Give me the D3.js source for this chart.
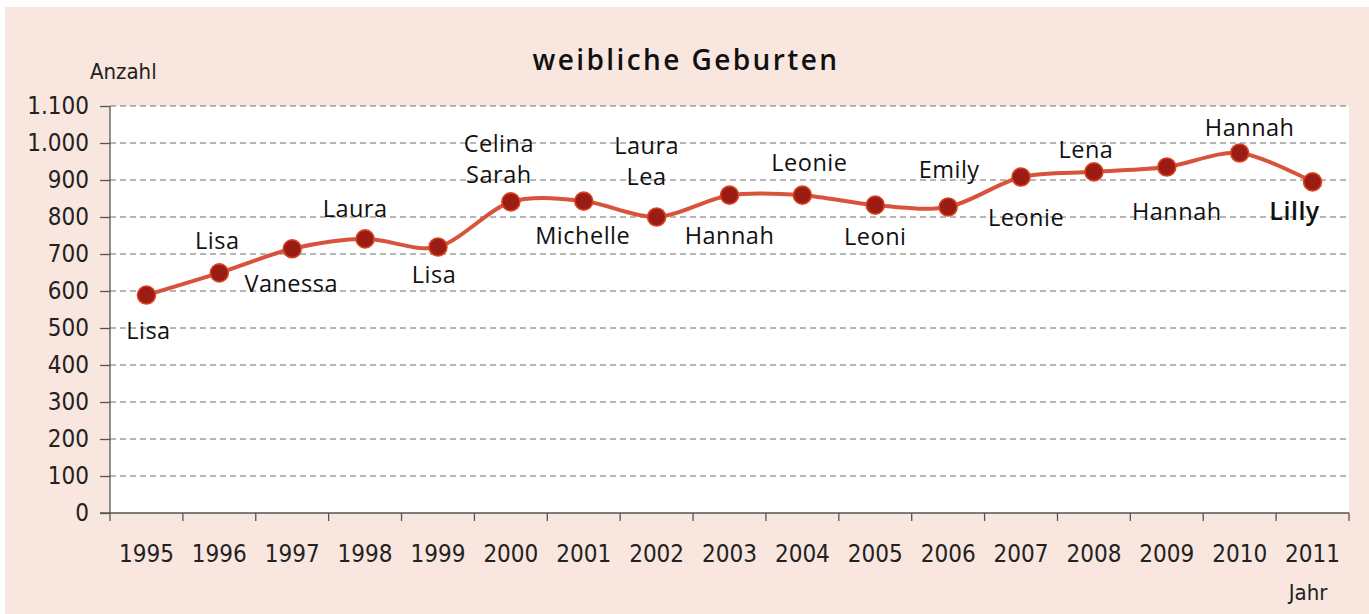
<!DOCTYPE html>
<html lang="de">
<head>
<meta charset="UTF-8" />
<title>weibliche Geburten</title>
<script src="https://d3js.org/d3.v7.min.js"></script>
<style>
    body { margin: 0; background: #fff; }
    .axis text { font-family: 'Liberation Sans Narrow', 'DejaVu Sans', sans-serif; font-stretch: condensed; font-size: 24px; fill: #222; }
    .axis .domain, .axis line { stroke: #555; stroke-width: 1.3; }
    .name { font-family: 'Open Sans', sans-serif; font-size: 23.5px; letter-spacing: 0.5px; fill: #111; }
</style>
</head>
<body>
<svg width="1369" height="614"></svg>
<script>

// data
var years = ["1995","1996","1997","1998","1999","2000","2001","2002","2003",
             "2004","2005","2006","2007","2008","2009","2010","2011"];
var births = [589, 649, 714, 741, 719, 841, 843, 800, 859, 859, 832, 827, 908, 922, 935, 973, 895];
var topNames = ["Lisa","Lisa","Vanessa","Laura","Lisa","Celina\nSarah","Michelle","Laura\nLea","Hannah",
                "Leonie","Leoni","Emily","Leonie","Lena","Hannah","Hannah","Lilly"];
var yTicks = [0,100,200,300,400,500,600,700,800,900,1000,1100];

// where each name label sits, relative to its point (px)
var labelDx = [2,-2,-1,-10,-4,-12,-1,-10,0,7,0,1,5,-8,10,10,-18];
var labelDy = [35,-32,35,-30,28,-27,34,-40,40,-33,31,-37,40,-22,44,-25,29];

var svg = d3.select("svg");
var plotLeft = 110, plotRight = 1349, plotTop = 106, plotBottom = 513;

// pink background + white plot area
svg.append("rect").attr("x", 5).attr("y", 7).attr("width", 1364).attr("height", 607).attr("fill", "#f9e7df");
svg.append("rect").attr("x", plotLeft).attr("y", plotTop).attr("width", plotRight - plotLeft).attr("height", plotBottom - plotTop).attr("fill", "#fff");

var x = d3.scaleBand().domain(years).range([plotLeft, plotRight]);
var y = d3.scaleLinear().domain([0, 1100]).range([plotBottom, plotTop]);

var de = d3.formatLocale({decimal: ",", thousands: ".", grouping: [3], currency: ["", "€"]});

// dashed gridlines
svg.append("g")
    .selectAll("line")
    .data(yTicks.filter(function(d) { return d > 0; }))
    .enter().append("line")
        .attr("x1", plotLeft).attr("x2", plotRight)
        .attr("y1", function(d) { return y(d); })
        .attr("y2", function(d) { return y(d); })
        .attr("stroke", "#6e6e6e")
        .attr("stroke-width", 1)
        .attr("stroke-dasharray", "6,4");

// y axis
svg.append("g")
    .attr("class", "axis")
    .attr("transform", "translate(" + plotLeft + ",0)")
    .call(d3.axisLeft(y).tickValues(yTicks).tickSize(10).tickPadding(11).tickFormat(de.format(",")))
    .call(function(g) { g.select(".domain").attr("d", "M0," + plotTop + "V" + plotBottom); });

// x axis: ticks on band edges, labels in the middle
var xg = svg.append("g").attr("class", "axis");
xg.append("line").attr("x1", plotLeft - 10).attr("x2", plotRight).attr("y1", plotBottom).attr("y2", plotBottom);
xg.selectAll("line.tick")
    .data(years.concat(["end"]))
    .enter().append("line")
        .attr("class", "tick")
        .attr("x1", function(d) { return d == "end" ? plotRight : x(d); })
        .attr("x2", function(d) { return d == "end" ? plotRight : x(d); })
        .attr("y1", plotBottom).attr("y2", plotBottom + 8);
xg.selectAll("text")
    .data(years)
    .enter().append("text")
        .attr("x", function(d) { return x(d) + x.bandwidth() / 2; })
        .attr("y", 562)
        .attr("text-anchor", "middle")
        .text(function(d) { return d; });

xg.append("text").attr("x", 1308).attr("y", 600).attr("text-anchor", "middle").style("font-size", "22px").text("Jahr");
xg.append("text").attr("x", 90).attr("y", 79).style("font-size", "22px").text("Anzahl");

// title
svg.append("text")
    .attr("x", 686).attr("y", 70)
    .attr("text-anchor", "middle")
    .style("font-family", "'Open Sans', sans-serif")
    .style("font-size", "28px")
    .style("font-weight", 600)
    .style("letter-spacing", "2.4px")
    .attr("fill", "#111")
    .text("weibliche Geburten");

var cx = function(i) { return x(years[i]) + x.bandwidth() / 2; };

// smoothed line
var line = d3.line()
    .x(function(d, i) { return cx(i); })
    .y(function(d) { return y(d); })
    .curve(d3.curveCardinal.tension(0.1));

svg.append("path")
    .datum(births)
    .attr("fill", "none")
    .attr("stroke", "#d8533b")
    .attr("stroke-width", 4)
    .attr("d", line);

svg.append("g")
    .selectAll("circle")
    .data(births)
    .enter().append("circle")
        .attr("cx", function(d, i) { return cx(i); })
        .attr("cy", function(d) { return y(d); })
        .attr("r", 9)
        .attr("fill", "#9a1c15")
        .attr("stroke", "#d9441f")
        .attr("stroke-width", 1.6);

// name labels
var labels = svg.append("g")
    .selectAll("text")
    .data(topNames)
    .enter().append("text")
        .attr("class", "name")
        .attr("text-anchor", "middle")
        .style("font-weight", function(d, i) { return i == topNames.length - 1 ? 600 : null; })
        .style("font-size", function(d, i) { return i == topNames.length - 1 ? "25px" : null; });

labels.each(function(d, i) {
    var lines = d.split("\n");
    var t = d3.select(this);
    lines.forEach(function(s, j) {
        t.append("tspan")
            .attr("x", cx(i) + labelDx[i])
            .attr("y", y(births[i]) + labelDy[i] - (lines.length - 1 - j) * 31)
            .attr("dy", "0.36em")
            .text(s);
    });
});

</script>
</body>
</html>
